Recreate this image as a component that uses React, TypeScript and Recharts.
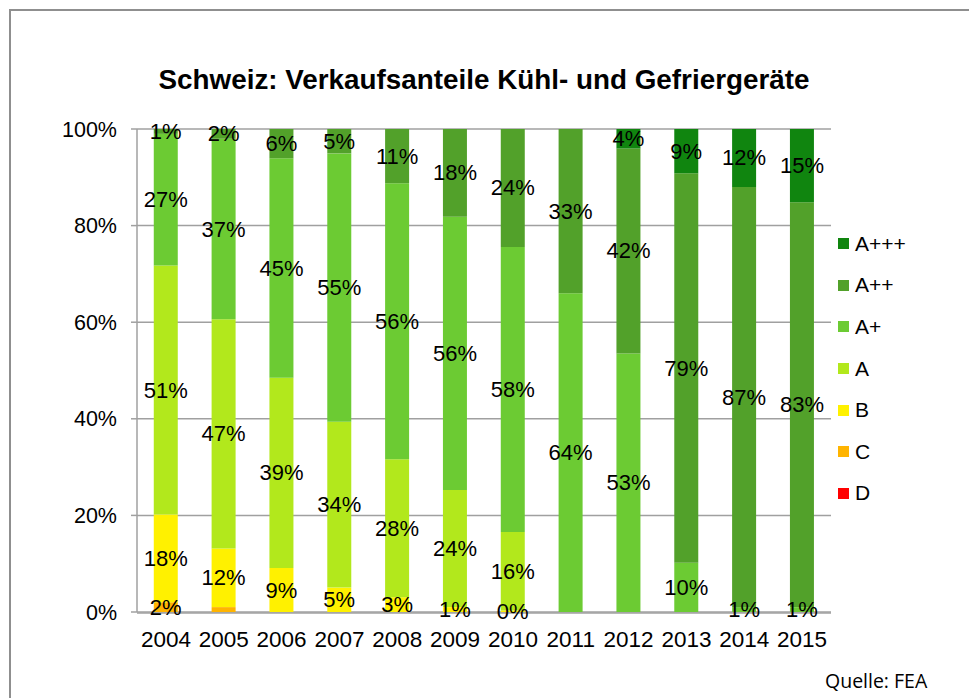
import React from 'react';
import { BarChart, Bar, XAxis, YAxis, CartesianGrid, Legend, LabelList } from 'recharts';

const YEARS = ['2004', '2005', '2006', '2007', '2008', '2009', '2010', '2011', '2012', '2013', '2014', '2015'];

const D_VALUES: (number | null)[] = [null, null, null, null, null, null, null, null, null, null, null, null];
const C_VALUES: (number | null)[] = [2, 1, null, null, null, null, null, null, null, null, null, null];
const B_VALUES: (number | null)[] = [18, 12, 9, 5, 3, 1, 0.3, null, null, null, null, null];
const A_VALUES: (number | null)[] = [51, 47, 39, 34, 28, 24, 16, null, null, null, null, null];
const AP_VALUES: (number | null)[] = [27, 37, 45, 55, 56, 56, 58, 64, 53, 10, 1, 1];
const APP_VALUES: (number | null)[] = [1, 2, 6, 5, 11, 18, 24, 33, 42, 79, 87, 83];
const APPP_VALUES: (number | null)[] = [null, null, null, null, null, null, null, null, 4, 9, 12, 15];

// labels that are not shown in the reference: [series key, year]
const HIDDEN_LABELS: [string, string][] = [['C', '2005']];

const Y_TICKS = [0, 0.2, 0.4, 0.6, 0.8, 1];
const BOUNDARY_TICKS = [0, 1, 2, 3, 4, 5, 6, 7, 8, 9, 10, 11, 12];

const TITLE = 'Schweiz: Verkaufsanteile Kühl- und Gefriergeräte';
const SOURCE = 'Quelle: FEA';

const SERIES = [
  { key: 'D', name: 'D', color: '#FF0000', values: D_VALUES },
  { key: 'C', name: 'C', color: '#FFB400', values: C_VALUES },
  { key: 'B', name: 'B', color: '#FFF100', values: B_VALUES },
  { key: 'A', name: 'A', color: '#B2E81C', values: A_VALUES },
  { key: 'Ap', name: 'A+', color: '#6CCB33', values: AP_VALUES },
  { key: 'App', name: 'A++', color: '#52A12A', values: APP_VALUES },
  { key: 'Appp', name: 'A+++', color: '#10850F', values: APPP_VALUES },
];

const FONT = "'Liberation Sans', Arial, sans-serif";
const GRAY = '#a0a0a0';

const data = YEARS.map((year, i) => {
  const row: Record<string, any> = { year };
  SERIES.forEach((s) => {
    const v = s.values[i];
    row[s.key] = v ?? 0;
    const hidden = HIDDEN_LABELS.some(([k, y]) => k === s.key && y === year);
    row['lab_' + s.key] = hidden ? null : v;
  });
  return row;
});

const renderLabel = (props: any) => {
  const { x, y, width, height, value } = props;
  if (value === null || value === undefined) return null;
  return (
    <text
      x={Number(x) + Number(width) / 2}
      y={Number(y) + Number(height) / 2}
      textAnchor="middle"
      dominantBaseline="central"
      fontFamily={FONT}
      fontSize={22}
      fill="#000"
    >
      {Math.round(value) + '%'}
    </text>
  );
};

const renderLegend = (props: any) => {
  const payload = props.payload || [];
  const items = [...SERIES].reverse().map((s) => {
    const p = payload.find((it: any) => it.value === s.name);
    return { name: s.name, color: p ? p.color : s.color };
  });
  return (
    <div style={{ fontFamily: FONT, fontSize: 21, color: '#000' }}>
      {items.map((it) => (
        <div key={it.name} style={{ display: 'flex', alignItems: 'center', height: 41.6 }}>
          <span style={{ display: 'inline-block', width: 11, height: 11, background: it.color, marginRight: 6 }} />
          <span>{it.name}</span>
        </div>
      ))}
    </div>
  );
};

export default function App() {
  return (
    <div style={{ position: 'fixed', left: 0, top: 0, width: 969, height: 698, overflow: 'hidden', background: '#fff' }}>
      <div
        style={{
          position: 'absolute',
          left: 9,
          top: 9,
          width: 1000,
          height: 760,
          border: '2px solid #8f8f8f',
          boxSizing: 'border-box',
        }}
      />
      <svg style={{ position: 'absolute', left: 0, top: 0 }} width={969} height={120}>
        <text
          x={484}
          y={89}
          textAnchor="middle"
          fontFamily={FONT}
          fontWeight="bold"
          fontSize={27}
          textLength={651}
          lengthAdjust="spacingAndGlyphs"
          fill="#000"
        >
          {TITLE}
        </text>
      </svg>
      <div style={{ position: 'absolute', left: 0, top: 0 }}>
        <BarChart
          width={969}
          height={698}
          data={data}
          stackOffset="expand"
          barCategoryGap="29%"
          margin={{ top: 129, right: 138, bottom: 84, left: 0 }}
        >
          <CartesianGrid horizontal vertical={false} stroke={GRAY} strokeWidth={1.5} />
          <XAxis
            dataKey="year"
            height={1}
            axisLine={false}
            tickLine={false}
            tickSize={0}
            tickMargin={19}
            tick={{ fontFamily: FONT, fontSize: 22.5, fill: '#000' }}
            interval={0}
          />
          <XAxis
            xAxisId="b"
            type="number"
            domain={[0, 12]}
            ticks={BOUNDARY_TICKS}
            allowDataOverflow
            height={1}
            tick={false}
            tickSize={6}
            axisLine={{ stroke: GRAY, strokeWidth: 1.5 }}
            tickLine={{ stroke: GRAY, strokeWidth: 1.5 }}
          />
          <YAxis
            width={137}
            domain={[0, 1]}
            ticks={Y_TICKS}
            tickFormatter={(v: number) => Math.round(v * 100) + '%'}
            tickSize={6}
            tickMargin={14}
            axisLine={{ stroke: GRAY, strokeWidth: 1.5 }}
            tickLine={{ stroke: GRAY, strokeWidth: 1.5 }}
            tick={{ fontFamily: FONT, fontSize: 21.5, fill: '#000' }}
          />
          <Legend
            layout="vertical"
            align="center"
            verticalAlign="middle"
            content={renderLegend}
            wrapperStyle={{ left: 838, top: 223, width: 120 }}
          />
          {SERIES.map((s) => (
            <Bar key={s.key} dataKey={s.key} name={s.name} stackId="a" fill={s.color} isAnimationActive={false}>
              <LabelList dataKey={'lab_' + s.key} content={renderLabel} />
            </Bar>
          ))}
        </BarChart>
      </div>
      <div
        style={{
          position: 'absolute',
          left: 825,
          top: 667,
          fontFamily: "'Open Sans', 'Liberation Sans', sans-serif",
          fontSize: 19.5,
          color: '#000',
          whiteSpace: 'nowrap',
        }}
      >
        {SOURCE}
      </div>
    </div>
  );
}
